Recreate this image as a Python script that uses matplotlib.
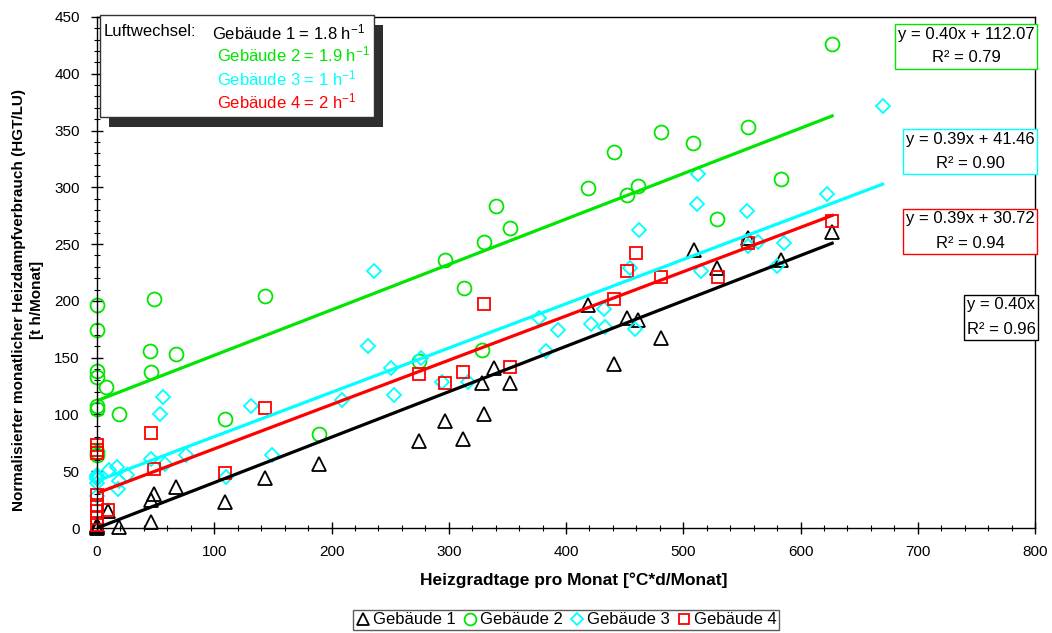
import numpy as np
import matplotlib
matplotlib.use("Agg")
import matplotlib.pyplot as plt
from matplotlib.patches import Rectangle
from matplotlib.ticker import MultipleLocator

plt.rcParams['font.family'] = ['Liberation Sans', 'DejaVu Sans']
plt.rcParams['mathtext.fontset'] = 'custom'
plt.rcParams['mathtext.rm'] = 'Liberation Sans'
plt.rcParams['mathtext.it'] = 'Liberation Sans:italic'
plt.rcParams['font.size'] = 10

W, H = 1052, 633

# data
names = ['Gebäude 1', 'Gebäude 2', 'Gebäude 3', 'Gebäude 4']
luftwechsel = ['1.8', '1.9', '1', '2']

x1 = [0, 0, 0, 0, 9, 19, 46, 46, 49, 67, 109, 143, 189, 275, 297, 312, 328, 330, 339, 352,
      419, 441, 452, 461, 481, 509, 529, 555, 583, 627]
y1 = [3, 2, 1, 0, 15, 1, 5, 25, 30, 36, 23, 44, 56, 77, 94, 78, 128, 100, 141, 128,
      196, 144, 185, 183, 167, 245, 229, 255, 236, 261]

x2 = [0, 0, 0, 0, 0, 0, 0, 0, 8, 19, 45, 46, 49, 67, 109, 143, 189, 275, 297, 313, 328, 330,
      340, 352, 419, 441, 452, 461, 481, 508, 529, 555, 583, 627]
y2 = [196, 174, 138, 133, 105, 107, 67, 64, 124, 100, 156, 137, 202, 153, 96, 204, 83, 147,
      236, 211, 157, 252, 284, 264, 299, 331, 293, 301, 349, 339, 272, 353, 307, 426]

x3 = [0, 0, 0, 0, 0, 10, 17, 18, 19, 26, 46, 54, 56, 58, 76, 110, 131, 149, 209, 231, 236,
      251, 253, 276, 294, 316, 377, 383, 393, 421, 432, 433, 455, 459, 462, 512, 513, 515,
      554, 555, 564, 580, 586, 623, 670]
y3 = [47, 45, 43, 40, 28, 51, 54, 34, 41, 47, 61, 100, 115, 56, 64, 45, 107, 64, 113, 160, 226,
      141, 117, 150, 129, 129, 185, 156, 174, 180, 193, 177, 229, 175, 262, 285, 312, 226,
      279, 248, 252, 231, 251, 294, 372]

x4 = [0, 0, 0, 0, 0, 0, 0, 0, 9, 46, 49, 109, 143, 275, 297, 312, 330, 352, 441, 452, 460,
      481, 530, 555, 627]
y4 = [73, 69, 66, 29, 20, 15, 9, 3, 16, 84, 52, 48, 106, 136, 128, 137, 197, 142, 202, 226,
      242, 221, 221, 251, 270]

slopes = [0.40, 0.40, 0.39, 0.39]
intercepts = [0.0, 112.07, 41.46, 30.72]
r2 = ['0.96', '0.79', '0.90', '0.94']

colors = ['#000000', '#00e600', '#00ffff', '#ff0000']
markers = ['^', 'o', 'D', 's']
msizes = [10, 10, 7, 9]

xs = [x1, x2, x3, x4]
ys = [y1, y2, y3, y4]


def fx(px):
    return px / W


def fy(py):
    return 1 - py / H


fig = plt.figure(figsize=(W / 100, H / 100), dpi=100)
ax = fig.add_axes([fx(97), fy(528), fx(1035) - fx(97), fy(17) - fy(528)])

handles = []
for i in range(4):
    h, = ax.plot(xs[i], ys[i], linestyle='none', marker=markers[i], markersize=msizes[i],
                 markerfacecolor='none', markeredgecolor=colors[i], markeredgewidth=1.3,
                 clip_on=False, label=names[i])
    handles.append(h)

for i in range(4):
    xl = np.array([0, max(xs[i])])
    ax.plot(xl, slopes[i] * xl + intercepts[i], color=colors[i], linewidth=2.3)

ax.set_xlim(0, 800)
ax.set_ylim(0, 450)
ax.xaxis.set_major_locator(MultipleLocator(100))
ax.xaxis.set_minor_locator(MultipleLocator(20))
ax.yaxis.set_major_locator(MultipleLocator(50))
ax.yaxis.set_minor_locator(MultipleLocator(10))
ax.tick_params(which='major', direction='inout', length=9, width=1, labelsize=11)
ax.tick_params(which='minor', direction='inout', length=5, width=0.8)
ax.tick_params(axis='x', pad=8)
ax.tick_params(axis='y', pad=8)
for s in ax.spines.values():
    s.set_linewidth(1)

fig.text(fx(574), fy(580), 'Heizgradtage pro Monat [°C*d/Monat]', ha='center', va='center',
         fontsize=12.5, fontweight='bold')
fig.text(fx(28), fy(300), 'Normalisierter monatlicher Heizdampfverbrauch (HGT/LU)\n[t h/Monat]',
         ha='center', va='center', rotation=90, fontsize=11, fontweight='bold',
         multialignment='center', linespacing=1.45)

# Luftwechsel box with shadow
fig.add_artist(Rectangle((fx(109), fy(127)), fx(383) - fx(109), fy(25) - fy(127),
                         transform=fig.transFigure, facecolor='#2e2e2e', edgecolor='none', zorder=5))
fig.add_artist(Rectangle((fx(100), fy(117)), fx(374) - fx(100), fy(15) - fy(117),
                         transform=fig.transFigure, facecolor='white', edgecolor='#333333',
                         linewidth=1, zorder=6))
fig.text(fx(104), fy(32), 'Luftwechsel:', ha='left', va='center', fontsize=12, zorder=7)
line_y = [32, 54, 78, 101]
for i in range(4):
    fig.text(fx(212 if i == 0 else 217), fy(line_y[i]),
             names[i] + ' = ' + luftwechsel[i] + r' h$^{-1}$',
             ha='left', va='center', fontsize=12, color=colors[i], zorder=7)

# regression labels
eq_pos = [(1001, 317), (966, 46), (970, 151), (970, 231)]
for i in range(4):
    if intercepts[i] == 0:
        eq = 'y = %.2fx' % slopes[i]
    else:
        eq = 'y = %.2fx + %.2f' % (slopes[i], intercepts[i])
    fig.text(fx(eq_pos[i][0]), fy(eq_pos[i][1]), eq + '\nR² = ' + r2[i],
             ha='center', va='center', multialignment='center', linespacing=1.75,
             fontsize=12, zorder=7,
             bbox=dict(boxstyle='square,pad=0.18', facecolor='white', edgecolor=colors[i],
                       linewidth=1))

leg = fig.legend(handles=handles, loc='center', bbox_to_anchor=(fx(566), fy(620)), ncol=4,
                 fontsize=12, frameon=True, fancybox=False, handlelength=0.9,
                 handletextpad=0.15, columnspacing=0.4, borderpad=0.15, borderaxespad=0,
                 markerscale=0.85)
leg.get_frame().set_edgecolor('#333333')
leg.get_frame().set_linewidth(1)

fig.savefig('out.png', dpi=100)
